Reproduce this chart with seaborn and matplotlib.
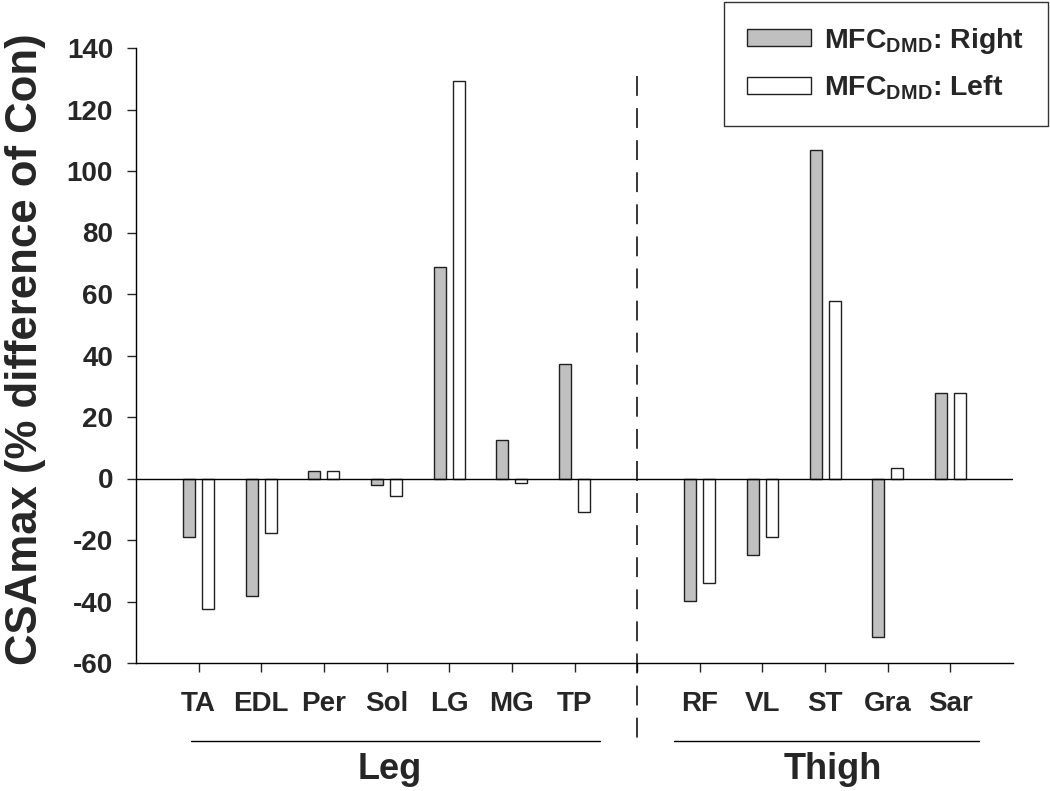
import numpy as np
import pandas as pd
import matplotlib
matplotlib.use("Agg")
import matplotlib.pyplot as plt
import matplotlib.transforms as mtransforms
import seaborn as sns

# ---- data ----
leg_muscles = ["TA", "EDL", "Per", "Sol", "LG", "MG", "TP"]
thigh_muscles = ["RF", "VL", "ST", "Gra", "Sar"]
right_values = [-19.1, -38.1, 2.4, -2.2, 68.9, 12.4, 37.1, -39.7, -25.0, 106.8, -51.7, 27.8]
left_values = [-42.4, -17.6, 2.4, -5.7, 129.4, -1.5, -10.9, -34.1, -19.0, 57.7, 3.5, 27.8]
series_names = ["MFC$_{DMD}$: Right", "MFC$_{DMD}$: Left"]
group_names = ["Leg", "Thigh"]
y_ticks = [-60, -40, -20, 0, 20, 40, 60, 80, 100, 120, 140]

muscles = leg_muscles + thigh_muscles
df = pd.DataFrame({
    "muscle": muscles * 2,
    "side": [series_names[0]] * len(muscles) + [series_names[1]] * len(muscles),
    "value": right_values + left_values,
})
order = leg_muscles + [" "] + thigh_muscles

sns.set_theme(style="ticks")
plt.rcParams["font.family"] = ["Liberation Sans", "DejaVu Sans"]
plt.rcParams["font.weight"] = "bold"
plt.rcParams["axes.unicode_minus"] = False
plt.rcParams["mathtext.fontset"] = "custom"
plt.rcParams["mathtext.rm"] = "Liberation Sans:bold"
plt.rcParams["mathtext.it"] = "Liberation Sans:bold"
plt.rcParams["mathtext.bf"] = "Liberation Sans:bold"

fig = plt.figure(figsize=(10.5, 7.91), dpi=100)
ax = fig.add_axes([136 / 1050, 128 / 791, 877 / 1050, 615 / 791])

sns.barplot(data=df, x="muscle", y="value", hue="side", order=order,
            hue_order=series_names,
            palette={series_names[0]: "#c0c0c0", series_names[1]: "white"},
            edgecolor="#202020", linewidth=1.0, width=0.608, gap=0.375,
            errorbar=None, dodge=True, ax=ax, zorder=3)

ax.set_xlim(-1.0, 13.0)
ax.set_ylim(-60, 140)
ax.set_yticks(y_ticks)
ax.set_xticks(range(len(order)))
ax.set_xticklabels(order, fontsize=20, fontweight="bold")
ax.tick_params(axis="y", labelsize=20, direction="out", length=6.5, width=1.0, pad=10)
ax.tick_params(axis="x", direction="out", length=6.5, width=1.0, pad=14)
for lab in ax.get_yticklabels():
    lab.set_fontweight("bold")
for s in ["top", "right"]:
    ax.spines[s].set_visible(False)
for s in ["left", "bottom"]:
    ax.spines[s].set_linewidth(1.0)
    ax.spines[s].set_color("black")

ax.set_xlabel("")
ax.set_ylabel("CSAmax (% difference of Con)", fontsize=31.5, fontweight="bold")
ax.yaxis.set_label_coords(-0.103, 0.51)

ax.axhline(0, color="black", lw=1.0, zorder=4)

# dashed separator
ax.plot([7, 7], [131, -86.5], color="black", lw=1.1,
        ls=(0, (13, 8)), clip_on=False, zorder=2)

# group lines and labels
trans = mtransforms.blended_transform_factory(ax.transData, ax.transAxes)
ax.plot([-0.12, 6.4], [-0.127, -0.127], color="black", lw=1.0, transform=trans, clip_on=False)
ax.plot([7.59, 12.46], [-0.127, -0.127], color="black", lw=1.0, transform=trans, clip_on=False)
ax.text(3.05, -0.173, group_names[0], transform=trans, ha="center", va="center",
        fontsize=26, fontweight="bold")
ax.text(10.13, -0.173, group_names[1], transform=trans, ha="center", va="center",
        fontsize=26, fontweight="bold")

handles, labels = ax.get_legend_handles_labels()
if ax.get_legend():
    ax.get_legend().remove()
leg = fig.legend(handles, labels, loc="upper right", bbox_to_anchor=(1048 / 1050, 789 / 791),
                 bbox_transform=fig.transFigure, fontsize=20.5, frameon=True, fancybox=False,
                 edgecolor="black", handlelength=2.25, handleheight=0.55, handletextpad=0.45,
                 labelspacing=0.64, borderpad=0.83, borderaxespad=0)
leg.get_frame().set_linewidth(1.0)
for t in leg.get_texts():
    t.set_fontweight("bold")

fig.savefig("out.png", dpi=100)
